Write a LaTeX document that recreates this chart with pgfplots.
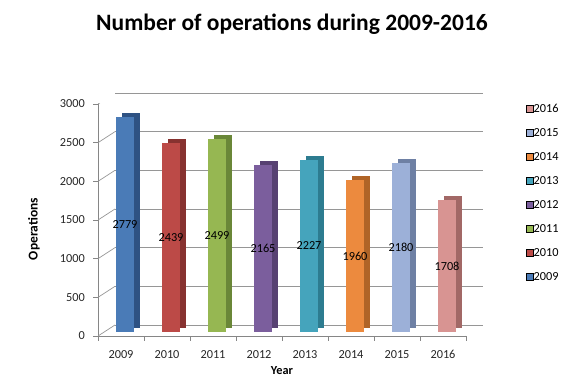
\documentclass[border=0pt]{standalone}
\usepackage{pgfplots}
\pgfplotsset{compat=1.18}
\usepackage{fontspec}
\setmainfont{Carlito}
\definecolor{f2009}{HTML}{4A7BB7}\definecolor{s2009}{HTML}{2E5283}
\definecolor{f2010}{HTML}{BC4A47}\definecolor{s2010}{HTML}{873230}
\definecolor{f2011}{HTML}{96B752}\definecolor{s2011}{HTML}{6A8738}
\definecolor{f2012}{HTML}{7B5E9D}\definecolor{s2012}{HTML}{574172}
\definecolor{f2013}{HTML}{45A4BC}\definecolor{s2013}{HTML}{2D7C90}
\definecolor{f2014}{HTML}{EC8A3E}\definecolor{s2014}{HTML}{B06427}
\definecolor{f2015}{HTML}{9CB0D8}\definecolor{s2015}{HTML}{6E80A4}
\definecolor{f2016}{HTML}{D89492}\definecolor{s2016}{HTML}{A26866}
\definecolor{axgray}{HTML}{868686}
\definecolor{gridgray}{HTML}{969696}
\begin{document}
\begin{tikzpicture}
\path[use as bounding box] (0,0) rectangle (576bp,384bp);
\begin{axis}[
  at={(98bp,48bp)}, anchor=south west,
  scale only axis, width=368bp, height=232bp,
  xmin=-0.5, xmax=7.5, ymin=0, ymax=3000,
  axis x line*=bottom, axis y line*=left,
  x axis line style={-}, y axis line style={-},
  axis line style={draw=axgray, line width=0.7bp},
  /pgf/number format/assume math mode=true,
  /pgf/number format/1000 sep={},
  tick align=outside,
  xtick={0,...,7},
  xticklabels={2009,2010,2011,2012,2013,2014,2015,2016},
  major x tick style={draw=none},
  minor xtick={-0.5,0.5,...,7.5},
  minor tick length=5bp,
  major tick length=5bp,
  tick style={draw=axgray, line width=0.7bp},
  ytick={0,500,...,3000},
  ticklabel style={font=\fontsize{12.3bp}{14bp}\selectfont, text=black!85},
  xticklabel style={inner sep=0pt, text height=8bp, text depth=0pt, yshift=-9bp},
  yticklabel style={inner sep=0pt, anchor=east, xshift=-8bp},
  ymajorgrids,
  major grid style={draw=gridgray, line width=0.7bp, xshift=17bp, yshift=11bp},
  legend image code/.code={\fill[#1] (0bp,-3.5bp) rectangle (7bp,3.5bp);},
  legend style={at={(1.163,1.0)}, anchor=north west, draw=none, fill=none,
    inner sep=0pt, row sep=16bp,
    font=\fontsize{12.3bp}{14bp}\selectfont,
    nodes={inner sep=0pt, text height=8bp, text depth=0pt, anchor=west},
    /tikz/every even column/.append style={column sep=2bp}},
  legend cell align=left,
  bk/.style={ybar, bar width=18bp, bar shift=10bp, yshift=8bp, draw=none, forget plot},
  fr/.style={ybar, bar width=18bp, bar shift=4bp, yshift=4bp, draw=none, forget plot,
    visualization depends on=y \as \rawy,
    nodes near coords,
    every node near coord/.append style={anchor=center, text=black,
      font=\fontsize{12.3bp}{14bp}\selectfont, xshift=4bp,
      shift={(axis direction cs:0,-\rawy/2)}}},
]
\pgfplotsinvokeforeach{0,500,...,3000}{
  \draw[gridgray, line width=0.7bp] (axis cs:-0.5,#1) -- ([xshift=17bp,yshift=11bp]axis cs:-0.5,#1);
}
\draw[gridgray, line width=0.7bp] (axis cs:7.5,0) -- ([xshift=17bp,yshift=11bp]axis cs:7.5,0);

\addplot[bk, fill=s2009] coordinates {(0,2779)};
\addplot[fr, fill=f2009] coordinates {(0,2779)};
\addplot[bk, fill=s2010] coordinates {(1,2439)};
\addplot[fr, fill=f2010] coordinates {(1,2439)};
\addplot[bk, fill=s2011] coordinates {(2,2499)};
\addplot[fr, fill=f2011] coordinates {(2,2499)};
\addplot[bk, fill=s2012] coordinates {(3,2165)};
\addplot[fr, fill=f2012] coordinates {(3,2165)};
\addplot[bk, fill=s2013] coordinates {(4,2227)};
\addplot[fr, fill=f2013] coordinates {(4,2227)};
\addplot[bk, fill=s2014] coordinates {(5,1960)};
\addplot[fr, fill=f2014] coordinates {(5,1960)};
\addplot[bk, fill=s2015] coordinates {(6,2180)};
\addplot[fr, fill=f2015] coordinates {(6,2180)};
\addplot[bk, fill=s2016] coordinates {(7,1708)};
\addplot[fr, fill=f2016] coordinates {(7,1708)};

\addlegendimage{fill=f2016}\addlegendentry{2016}
\addlegendimage{fill=f2015}\addlegendentry{2015}
\addlegendimage{fill=f2014}\addlegendentry{2014}
\addlegendimage{fill=f2013}\addlegendentry{2013}
\addlegendimage{fill=f2012}\addlegendentry{2012}
\addlegendimage{fill=f2011}\addlegendentry{2011}
\addlegendimage{fill=f2010}\addlegendentry{2010}
\addlegendimage{fill=f2009}\addlegendentry{2009}
\end{axis}
\node[font=\bfseries\fontsize{23.5bp}{26bp}\selectfont] at (292bp,360bp) {Number of operations during 2009-2016};
\node[font=\bfseries\fontsize{13.5bp}{15bp}\selectfont, rotate=90] at (34bp,155bp) {Operations};
\node[font=\bfseries\fontsize{12.3bp}{14bp}\selectfont] at (282bp,13bp) {Year};
\end{tikzpicture}
\end{document}
